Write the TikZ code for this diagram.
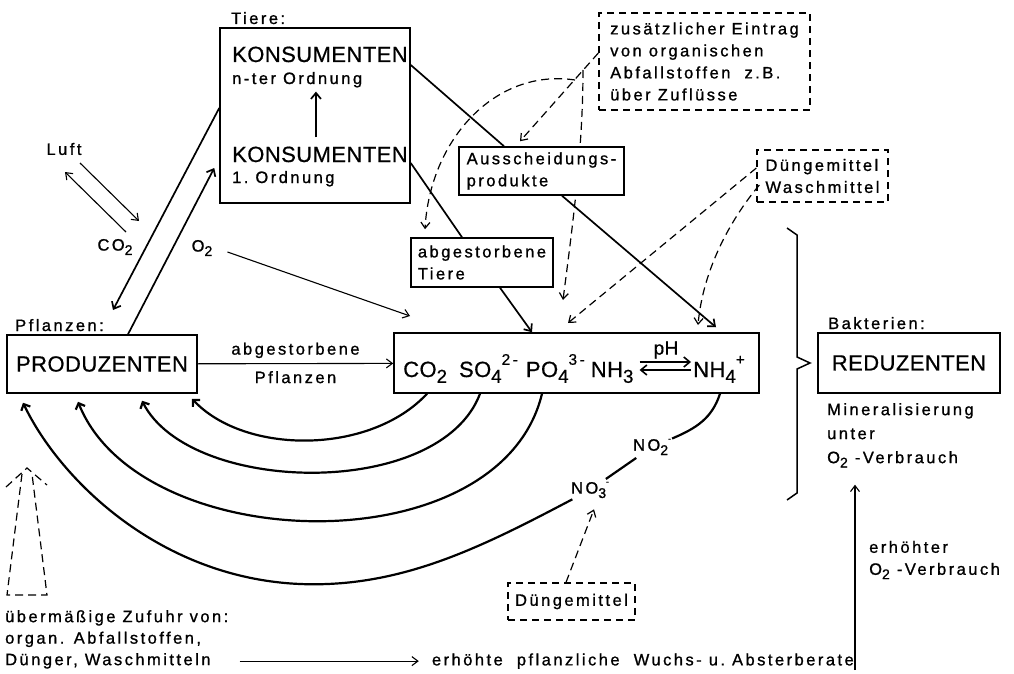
\documentclass[tikz,border=0pt]{standalone}
\usepackage{fontspec}
\setmainfont{Liberation Sans}
\newfontfamily\klein{Liberation Sans}[LetterSpace=15,FakeBold=1]
\newfontfamily\gross{Liberation Sans}[LetterSpace=2,FakeBold=0.6]
\usetikzlibrary{arrows.meta,backgrounds}
\newcommand{\tief}[1]{\raisebox{-0.5ex}{\scalebox{0.85}{#1}}}
\newcommand{\hoch}[1]{\raisebox{1.05ex}{\scalebox{0.7}{#1}}}

\begin{document}
\begin{tikzpicture}[x=1pt,y=-1pt,
  box/.style={draw,line width=1.5pt,fill=white,inner sep=0pt},
  dbox/.style={draw,line width=1.3pt,dash pattern=on 7pt off 5pt,inner sep=0pt},
  txt/.style={font=\klein\fontsize{16.5}{22}\selectfont,inner sep=1pt,align=left},
  gtxt/.style={font=\gross\fontsize{22}{26}\selectfont,inner sep=1pt},
  pfeil/.style={line width=1.1pt,-{Straight Barb[length=6pt,width=9pt]}},
  spfeil/.style={line width=1.7pt,-{Straight Barb[length=6pt,width=10pt]}},
  strich/.style={line width=1.7pt},
  dpfeil/.style={line width=1.2pt,dash pattern=on 8pt off 5pt,-{Straight Barb[length=6pt,width=9pt]}},
  bogen/.style={line width=2.2pt,-{Straight Barb[length=5pt,width=10pt]}}]

\useasboundingbox (0,0) rectangle (1014,674);

\node[txt,anchor=base west] (tiere) at (230,24) {Tiere:};
\node[box,minimum width=190pt,minimum height=175pt] (konsu) at (315,115.5) {};
\node[gtxt,anchor=base west] (kn1) at (231,62) {KONSUMENTEN};
\node[txt,anchor=base west] (kn2) at (231,84) {n-ter Ordnung};
\node[gtxt,anchor=base west] (ke1) at (231,162) {KONSUMENTEN};
\node[txt,anchor=base west] (ke2) at (231,183) {1.\hspace{7pt}Ordnung};
\draw[spfeil,shorten <=8pt,shorten >=3pt] ([shift={(-4,0)}]ke1.north) -- ([shift={(-4,0)}]ke1.north |- kn2.south);

\node[txt] (luft) at (64,149) {Luft};
\node[txt] (co2) at (115,247) {CO\tief{2}};
\node[txt] (o2) at (202,248) {O\tief{2}};
\node[txt,anchor=base west] (pflanzen) at (14,331) {Pflanzen:};
\node[gtxt,box,minimum width=190pt,minimum height=58pt] (produ) at (102,364) {PRODUZENTEN};

\node[box,minimum width=365pt,minimum height=60pt] (nutr) at (576.5,363) {};
\node[gtxt,font=\gross\fontsize{22}{26}\selectfont,anchor=base west] (chem) at (402,377) {CO\tief{2}\hspace{12pt}SO\tief{4}\hoch{2\,-}\hspace{8pt}PO\tief{4}\hoch{3\,-}\hspace{6pt}NH\tief{3}};
\node[gtxt,font=\gross\fontsize{22}{26}\selectfont,anchor=base west] (nh4) at (692,377) {NH\tief{4}\hoch{+}};
\node[gtxt,font=\gross\fontsize{19}{24}\selectfont] (ph) at (666,350) {pH};
\draw[spfeil,line width=1.6pt] ([shift={(5,-15)}]chem.base east) -- ([shift={(-1,-15)}]nh4.base west);
\draw[spfeil,line width=1.6pt] ([shift={(-1,-7)}]nh4.base west) -- ([shift={(5,-7)}]chem.base east);

\node[txt,anchor=base west] (bakt) at (827,329) {Bakterien:};
\node[gtxt,box,minimum width=182pt,minimum height=60pt] (redu) at (909,363) {REDUZENTEN};
\node[txt,font=\klein\fontsize{16.5}{24}\selectfont,anchor=north west] (minera) at (826,402) {Mineralisierung\\unter\\O\tief{2} -Verbrauch};

\node[txt,box,minimum width=165pt,minimum height=48pt] (aussch) at (541.5,171) {Ausscheidungs-\\produkte};
\node[txt,box,minimum width=142pt,minimum height=49pt] (abgt) at (482,262.5) {abgestorbene\\Tiere};
\node[txt,dbox,minimum width=211pt,minimum height=97pt] (zus) at (704.5,61.5) {zusätzlicher Eintrag\\von organischen\\Abfallstoffen\ \ z.B.\\über Zuflüsse};
\node[txt,dbox,minimum width=131pt,minimum height=52pt] (dw) at (822.5,176) {Düngemittel\\Waschmittel};
\node[txt,dbox,minimum width=127pt,minimum height=37pt] (dng) at (571.5,601.5) {Düngemittel};
\node[txt] (no2) at (652,447) {NO\tief{2}\hoch{\large -}};
\node[txt] (no3) at (590,490) {NO\tief{3}\hoch{\large -}};

\node[txt,font=\klein\fontsize{16.5}{21.5}\selectfont,anchor=north west] (zufuhr) at (4,609) {übermäßige Zufuhr von:\\organ. Abfallstoffen,\\Dünger, Waschmitteln};
\node[txt,anchor=south east] (wuchs) at (855,670) {erhöhte\ \ pflanzliche\ \ Wuchs-\ u.\ Absterberate};
\node[txt,anchor=west] (erh) at (868,560) {erhöhter\\O\tief{2} -Verbrauch};

\coordinate (luftpfeil) at (139,221);
\coordinate (pflpfeil) at (113,310);
\coordinate (o2pfeil) at (410,316);
\coordinate (zb) at (583,70);
\coordinate (zc) at (575,80);
\coordinate (zv) at (563,300);
\coordinate (dwa) at (568,323);
\coordinate (dwb) at (698,325);

\draw[pfeil] ([shift={(16,14)}]luft.center) -- (luftpfeil);
\draw[pfeil] ([shift={(11,-15)}]co2.center) -- ([shift={(1,23)}]luft.center);
\draw[spfeil] ([shift={(0,-7.5)}]konsu.west) -- (pflpfeil);
\draw[spfeil] ([shift={(26,0)}]produ.north) -- ([shift={(-5,52.5)}]konsu.west);
\draw[pfeil] ([shift={(14,4)}]o2.east) -- (o2pfeil);
\draw[pfeil] (produ) -- (nutr) node[txt,midway,above=4pt] {abgestorbene} node[txt,midway,below=6pt] {Pflanzen};

\draw[strich] ([shift={(0,-50.5)}]konsu.east) -- ([shift={(-37.5,0)}]aussch.north);
\draw[strich] ([shift={(0,47.5)}]konsu.east) -- ([shift={(-20,0)}]abgt.north);
\draw[spfeil] ([shift={(18,0)}]abgt.south) -- ([shift={(-44.5,0)}]nutr.north);
\draw[spfeil] ([shift={(20.5,0)}]aussch.south) -- ([shift={(139.5,-5)}]nutr.north);

\draw[dpfeil] ([shift={(0,-8.5)}]zus.west) -- ([shift={(-21.5,-5)}]aussch.north);
\begin{pgfonlayer}{background}
\draw[dpfeil] (zb) .. controls (583,150) and (572,230) .. (zv);
\end{pgfonlayer}
\draw[dpfeil] (zc) .. controls (495,68) and (430,140) .. ([shift={(-57,-8)}]abgt.north);
\draw[dpfeil] ([shift={(0,-8)}]dw.west) -- (dwa);
\draw[dpfeil] ([shift={(3,9)}]dw.west) .. controls (730,220) and (703,270) .. (dwb);
\draw[dpfeil] ([shift={(-5.5,0)}]dng.north) -- ([shift={(4,10)}]no3.south);

\draw[bogen] ([shift={(-149.5,0)}]nutr.south) .. controls (370,455) and (245,455) .. ([shift={(90,5)}]produ.south);
\draw[bogen] ([shift={(-96.5,0)}]nutr.south) .. controls (440,500) and (190,495) .. ([shift={(40,7)}]produ.south);
\draw[bogen] ([shift={(-34.5,0)}]nutr.south) .. controls (500,567) and (140,557) .. ([shift={(-24,8)}]produ.south);
\draw[line width=2.2pt] ([shift={(143.5,0)}]nutr.south) .. controls (712,418) and (697,428) .. (no2);
\draw[line width=2.2pt,shorten <=3pt,shorten >=3pt] (no2) -- (no3);
\draw[bogen] (no3) .. controls (480,548) and (400,588) .. (300,584) .. controls (160,578) and (60,480) .. ([shift={(-79,9)}]produ.south);

\draw[line width=1.2pt,dash pattern=on 8pt off 5pt] (6,487) -- (27,468) -- (47,485);
\draw[line width=1.2pt,dash pattern=on 8pt off 5pt] (22,474) -- (7,595) -- (47,595) -- (32,474);

\draw[line width=1.5pt] (787,228) -- (797,235) -- (797,357) -- (810,363) -- (797,369) -- (797,493) -- (787,500);

\draw[pfeil] ([shift={(10,0)}]zufuhr.east |- wuchs.west) -- ([shift={(-12,0)}]wuchs.west);
\draw[pfeil,shorten >=16pt] (wuchs.south east) -- (wuchs.south east |- minera.south);
\end{tikzpicture}
\end{document}
